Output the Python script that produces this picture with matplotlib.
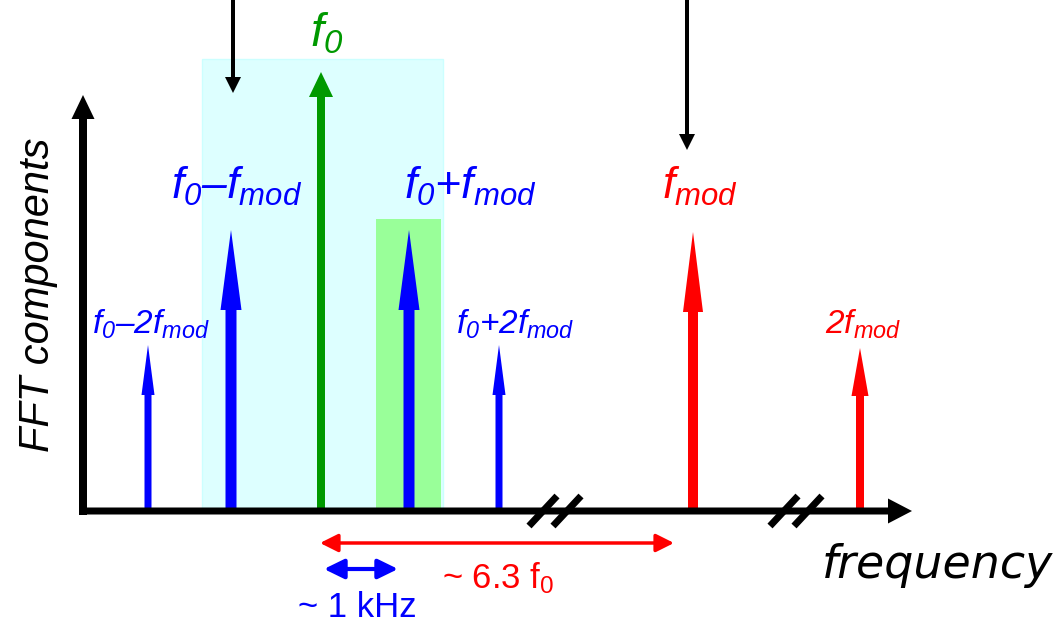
import matplotlib
matplotlib.use('Agg')
import matplotlib.pyplot as plt
from matplotlib.patches import Rectangle

plt.rcParams['font.family'] = ['Liberation Sans', 'DejaVu Sans']
plt.rcParams['mathtext.fontset'] = 'custom'
plt.rcParams['mathtext.it'] = 'Liberation Sans:italic'
plt.rcParams['mathtext.rm'] = 'Liberation Sans'
plt.rcParams['mathtext.sf'] = 'Liberation Sans:italic'

# spectral lines: position on the frequency axis and FFT amplitude
line_names = ['f0-2fmod', 'f0-fmod', 'f0', 'f0+fmod', 'f0+2fmod', 'fmod', '2fmod']
line_pos = [148, 231, 321, 409, 499, 693, 860]
line_amp = [166, 281, 439, 281, 166, 279, 163]
line_text = [r'$f_{\mathsf{0}}$–2$f_{mod}$', r'$f_{\mathsf{0}}$–$f_{mod}$', r'$f_{\mathsf{0}}$',
             r'$f_{\mathsf{0}}$+$f_{mod}$', r'$f_{\mathsf{0}}$+2$f_{mod}$', r'$f_{mod}$', r'2$f_{mod}$']

# axis breaks and the two bands
break_pos = [543, 567, 784, 808]
band_cyan = (202, 443, 452)
band_green = (376, 441, 292)

# spacing annotations
span_big = (320, 674)
span_small = (324, 398)

colors = {'f0-2fmod': '#0000ff', 'f0-fmod': '#0000ff', 'f0': '#009900', 'f0+fmod': '#0000ff',
          'f0+2fmod': '#0000ff', 'fmod': '#ff0000', '2fmod': '#ff0000'}
# (shaft width, head width, head length) in pixels
shape = {'f0-2fmod': (7, 13, 50), 'f0-fmod': (11, 21, 80), 'f0': (8, 24, 25), 'f0+fmod': (11, 21, 80),
         'f0+2fmod': (7, 13, 50), 'fmod': (10, 20, 80), '2fmod': (8, 17, 48)}
# label placement (x centre, baseline height, font size)
lab = {'f0-2fmod': (151, 177, 24), 'f0-fmod': (237, 312, 32), 'f0': (327, 464, 34), 'f0+fmod': (470, 312, 32),
       'f0+2fmod': (515, 177, 24), 'fmod': (700, 312, 32), '2fmod': (863, 177, 24)}

fig = plt.figure(figsize=(10.63, 6.22), dpi=100)
ax = fig.add_axes([0, 0, 1, 1])
ax.set_xlim(0, 1063)
ax.set_ylim(-111, 511)
ax.axis('off')

ax.add_patch(Rectangle((band_cyan[0], 0), band_cyan[1] - band_cyan[0], band_cyan[2],
                       facecolor='#ddffff', edgecolor='#ccffff', lw=1, zorder=1))
ax.add_patch(Rectangle((band_green[0], 0), band_green[1] - band_green[0], band_green[2],
                       facecolor='#99ff99', edgecolor='none', zorder=2))

for i, name in enumerate(line_names):
    w, hw, hl = shape[name]
    ax.arrow(line_pos[i], 0, 0, line_amp[i], width=w, head_width=hw, head_length=hl,
             length_includes_head=True, color=colors[name], lw=0, zorder=3)
    lx, ly, fs = lab[name]
    ax.text(lx, ly, line_text[i], color=colors[name], fontsize=fs, style='italic',
            ha='center', va='baseline', zorder=5)

# axes
ax.arrow(83, -4, 0, 420, width=8, head_width=23, head_length=24,
         length_includes_head=True, color='black', lw=0, zorder=4)
ax.arrow(79, 0, 833, 0, width=7, head_width=25, head_length=24,
         length_includes_head=True, color='black', lw=0, zorder=4)
for b in break_pos:
    ax.plot([b - 14, b + 14], [-15, 15], color='black', lw=5, solid_capstyle='butt', zorder=4)

# pointers from above
ax.arrow(233, 520, 0, -102, width=4, head_width=16, head_length=16,
         length_includes_head=True, color='black', lw=0, zorder=4)
ax.arrow(687, 520, 0, -159, width=4, head_width=16, head_length=16,
         length_includes_head=True, color='black', lw=0, zorder=4)

ax.annotate('', xy=(span_big[1], -32), xytext=(span_big[0], -32),
            arrowprops=dict(arrowstyle='<|-|>,head_length=0.4,head_width=0.2', color='#ff0000',
                            lw=2.5, mutation_scale=27, shrinkA=0, shrinkB=0))
ax.annotate('', xy=(span_small[1], -58), xytext=(span_small[0], -58),
            arrowprops=dict(arrowstyle='<|-|>,head_length=0.45,head_width=0.22', color='#0000ff',
                            lw=3, mutation_scale=27, shrinkA=0, shrinkB=0))
ax.text(442, -77, r'~ 6.3 f$_\mathrm{0}$', color='#ff0000', fontsize=25, ha='left', va='baseline')
ax.text(298, -106, '~ 1 kHz', color='#0000ff', fontsize=25, ha='left', va='baseline')

ax.text(38, 216, 'FFT components', rotation=90, fontsize=30, style='italic',
        ha='center', va='center')
ax.text(938, -67, 'frequency', fontsize=33, style='italic', family='DejaVu Sans',
        ha='center', va='baseline')

plt.savefig('out.png', dpi=100)
